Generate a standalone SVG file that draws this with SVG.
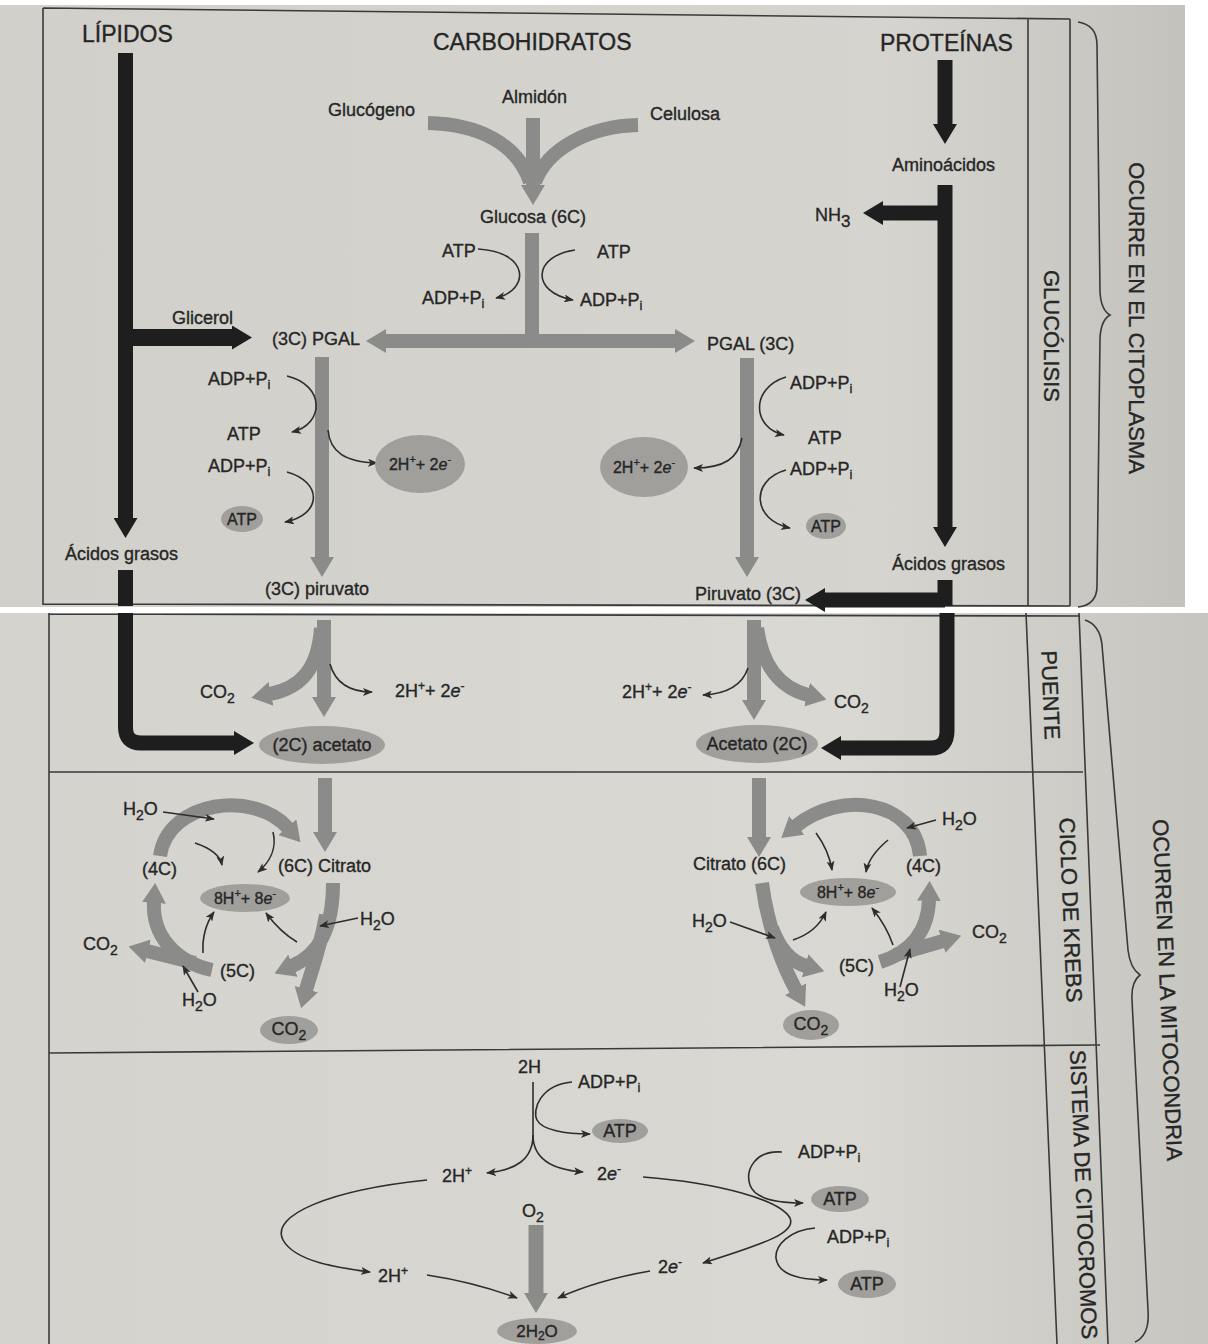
<svg xmlns="http://www.w3.org/2000/svg" width="1208" height="1344" viewBox="0 0 1208 1344">
<defs>
<linearGradient id="pt" x1="0" x2="1" y1="0" y2="0"><stop offset="0" stop-color="#d2d0cb"/><stop offset="0.75" stop-color="#d6d4cf"/><stop offset="1" stop-color="#c4c2bc"/></linearGradient>
<linearGradient id="pb" x1="0" x2="1" y1="0" y2="0"><stop offset="0" stop-color="#d4d3ce"/><stop offset="0.7" stop-color="#d9d8d3"/><stop offset="1" stop-color="#c7c5bf"/></linearGradient>
<marker id="mg" viewBox="0 0 20 24" markerWidth="20" markerHeight="24" refX="1" refY="12" orient="auto" markerUnits="userSpaceOnUse"><path d="M0,0 L20,12 L0,24 z" fill="#8b8b89"/></marker>
<marker id="mb" viewBox="0 0 20 24" markerWidth="20" markerHeight="24" refX="1" refY="12" orient="auto" markerUnits="userSpaceOnUse"><path d="M0,0 L20,12 L0,24 z" fill="#1e1e1e"/></marker>
<marker id="mt" viewBox="0 0 10 8" markerWidth="10" markerHeight="8" refX="9" refY="4" orient="auto" markerUnits="userSpaceOnUse"><path d="M0,0 L10,4 L0,8 L2.5,4 z" fill="#2d2d2d"/></marker>
<style>
.g{fill:none;stroke:#8b8b89;stroke-width:14}
.gm{marker-end:url(#mg)}
.b{fill:none;stroke:#1e1e1e;stroke-width:15}
.bm{marker-end:url(#mb)}
.t{fill:none;stroke:#2d2d2d;stroke-width:1.6;marker-end:url(#mt)}
.tn{fill:none;stroke:#2d2d2d;stroke-width:1.6}
.f{fill:none;stroke:#3a3a3a;stroke-width:1.6}
.e{fill:#a19f9b}
text{font-family:"Liberation Sans",Arial,sans-serif;fill:#262626;stroke:#262626;stroke-width:0.35}
.l{font-size:18px}
.s{font-size:16px}
.T{font-size:23px}
.V{font-size:22px}
.c{text-anchor:middle}
</style>
</defs>
<rect width="1208" height="1344" fill="#ffffff"/>
<rect x="0" y="5" width="1185" height="602" fill="url(#pt)"/>
<rect x="0" y="613" width="1208" height="731" fill="url(#pb)"/>

<g id="frame">
<path class="f" d="M43,8 V605 M43,8 L1070,19 M43,604 L1070,606 M1028,18 V606 M1070,19 V606"/>
<path class="f" d="M1078,22 Q1097,25 1097,45 L1100,292 Q1101,310 1110,315 Q1101,320 1100,338 L1097,586 Q1097,605 1078,607"/>
<path class="f" d="M49,613 V1344 M49,614 L1080,616 M49,772 L1083,772 M49,1053 L1100,1045 M1026,613 L1057,1344 M1079,613 L1108,1344"/>
<path class="f" d="M1085,620 Q1100,625 1102,645 L1128,950 Q1130,968 1140,975 Q1131,982 1132,1000 L1148,1310 Q1150,1335 1135,1342"/>
</g>

<g id="connectors">
<path class="b bm" d="M125.5,53 V519"/>
<path class="b bm" style="stroke-width:17" d="M133,337.5 H233"/>
<path class="b" d="M125.5,570 V606"/>
<path class="b bm" d="M945,60 V125"/>
<path class="b bm" d="M945,185 V528"/>
<path class="b bm" d="M945,213 H882"/>
<path class="b" d="M945,580 V606"/>
<path class="b bm" d="M945,600 H824"/>
<path class="g" d="M428,123 C 480,124 518,145 530,182"/>
<path class="g" d="M638,125 C 590,126 548,148 535,182"/>
<path class="g gm" d="M533,118 V186"/>
<path class="g" d="M532,233 V341"/>
<path class="g gm" d="M532,341 H385"/>
<path class="g gm" d="M532,341 H676"/>
<path class="g gm" d="M322,357 V558"/>
<path class="g gm" d="M747,358 V558"/>
<path class="t" d="M478,249 C 530,252 530,290 496,298"/>
<path class="t" d="M575,250 C 533,256 530,292 573,300"/>
<path class="t" d="M287,376 C 325,385 325,424 292,432"/>
<path class="t" d="M287,472 C 323,482 322,515 285,522"/>
<path class="t" d="M328,430 C 330,452 345,462 377,463"/>
<path class="t" d="M786,377 C 750,388 752,428 784,435"/>
<path class="t" d="M786,470 C 750,480 752,520 790,528"/>
<path class="t" d="M742,438 C 738,458 725,468 694,468"/>

<path class="b bm" d="M125.5,613 V727 Q125.5,743 141,743 H235"/>
<path class="b bm" d="M947,613 V731 Q947,748 931,748 H840"/>
<path class="g gm" d="M324,620 V698"/>
<path class="g gm" d="M321,628 C 318,670 300,688 270,694"/>
<path class="t" d="M330,664 C 336,685 352,692 372,692"/>
<path class="g gm" d="M754,620 V701"/>
<path class="g gm" d="M757,628 C 762,665 780,688 808,695"/>
<path class="t" d="M748,668 C 742,686 725,694 703,695"/>

<path class="g gm" d="M325,778 V833"/>
<path class="g gm" d="M160,856 C 168,800 255,790 288,828"/>
<path class="g gm" d="M333,883 C 333,930 318,955 292,966"/>
<path class="g gm" d="M326,915 C 320,950 310,975 306,990"/>
<path class="g gm" d="M212,970 C 175,962 152,935 154,902"/>
<path class="g gm" d="M195,963 L147,951"/>
<path class="t" d="M163,812 L214,819"/>
<path class="t" d="M195,843 C 210,848 220,855 222,865"/>
<path class="t" d="M273,832 C 277,848 270,862 258,872"/>
<path class="t" d="M358,918 L320,926"/>
<path class="t" d="M297,942 C 285,935 275,925 266,913"/>
<path class="t" d="M198,992 L183,966"/>
<path class="t" d="M203,953 C 202,935 207,922 214,912"/>

<path class="g gm" d="M759,778 V838"/>
<path class="g gm" d="M920,856 C 915,800 840,790 796,826"/>
<path class="g gm" d="M762,883 C 768,930 785,970 796,990"/>
<path class="g gm" d="M772,928 C 780,950 792,962 806,966"/>
<path class="g gm" d="M880,962 C 912,952 928,930 929,900"/>
<path class="g gm" d="M895,955 L943,941"/>
<path class="t" d="M936,820 L907,828"/>
<path class="t" d="M816,833 C 825,845 830,858 832,870"/>
<path class="t" d="M888,840 C 876,850 868,860 866,872"/>
<path class="t" d="M730,922 L775,938"/>
<path class="t" d="M793,940 C 808,935 820,925 826,912"/>
<path class="t" d="M900,987 L910,949"/>
<path class="t" d="M893,945 C 888,930 880,918 872,908"/>

<path class="tn" d="M533,1082 V1137"/>
<path class="t" d="M533,1135 C 533,1160 515,1170 487,1173"/>
<path class="t" d="M533,1135 C 533,1160 555,1170 583,1172"/>
<path class="t" d="M572,1082 C 540,1085 532,1110 537,1120 C 542,1130 565,1134 590,1134"/>
<path class="t" d="M427,1180 C 330,1190 270,1215 283,1240 C 295,1262 340,1268 370,1272"/>
<path class="t" d="M427,1275 C 460,1280 490,1288 517,1298"/>
<path class="t" d="M650,1271 C 610,1278 580,1288 558,1298"/>
<path class="g gm" style="stroke-width:15" d="M536,1225 V1294"/>
<path class="t" d="M643,1177 C 720,1183 780,1200 790,1218 C 796,1232 770,1242 703,1263"/>
<path class="t" d="M782,1152 C 755,1150 745,1170 750,1185 C 755,1200 780,1203 803,1203"/>
<path class="t" d="M815,1228 C 790,1230 775,1245 776,1258 C 778,1275 800,1280 827,1280"/>
</g>

<g id="headers">
<text class="T" x="82" y="42">LÍPIDOS</text>
<text class="T" x="433" y="50">CARBOHIDRATOS</text>
<text class="T" x="880" y="51">PROTEÍNAS</text>
</g>
<g id="glucogeno"><text class="l" x="328" y="116">Glucógeno</text></g>
<g id="almidon"><text class="l" x="502" y="103">Almidón</text></g>
<g id="celulosa"><text class="l" x="650" y="120">Celulosa</text></g>
<g id="glucosa"><text class="l" x="480" y="223">Glucosa (6C)</text></g>
<g id="g-atp1"><text class="l" x="442" y="257">ATP</text></g>
<g id="g-atp2"><text class="l" x="597" y="258">ATP</text></g>
<g id="g-adp1"><text class="l" x="422" y="304">ADP+P<tspan font-size="13" dy="4">i</tspan></text></g>
<g id="g-adp2"><text class="l" x="580" y="306">ADP+P<tspan font-size="13" dy="4">i</tspan></text></g>
<g id="aminoacidos"><text class="l" x="892" y="171">Aminoácidos</text></g>
<g id="nh3"><text class="l" x="815" y="221">NH<tspan font-size="17" dy="6">3</tspan></text></g>
<g id="glicerol"><text class="l" x="172" y="324">Glicerol</text></g>
<g id="pgal-l"><text class="l" x="272" y="345">(3C) PGAL</text></g>
<g id="pgal-r"><text class="l" x="707" y="350">PGAL (3C)</text></g>
<g id="l-adp1"><text class="l" x="208" y="385">ADP+P<tspan font-size="13" dy="4">i</tspan></text></g>
<g id="l-atp1"><text class="l" x="227" y="440">ATP</text></g>
<g id="l-adp2"><text class="l" x="208" y="472">ADP+P<tspan font-size="13" dy="4">i</tspan></text></g>
<g id="l-atp2"><ellipse class="e" cx="242" cy="519" rx="21" ry="13"/><text class="s c" x="242" y="525">ATP</text></g>
<g id="l-2h"><ellipse class="e" cx="420" cy="464" rx="45" ry="29"/><text class="s c" x="420" y="470">2H<tspan font-size="11" dy="-7">+</tspan><tspan dy="7">+ 2</tspan><tspan font-style="italic">e</tspan><tspan font-size="11" dy="-7">-</tspan></text></g>
<g id="r-adp1"><text class="l" x="790" y="389">ADP+P<tspan font-size="13" dy="4">i</tspan></text></g>
<g id="r-atp1"><text class="l" x="808" y="444">ATP</text></g>
<g id="r-adp2"><text class="l" x="790" y="475">ADP+P<tspan font-size="13" dy="4">i</tspan></text></g>
<g id="r-atp2"><ellipse class="e" cx="826" cy="526" rx="20" ry="13"/><text class="s c" x="826" y="532">ATP</text></g>
<g id="r-2h"><ellipse class="e" cx="644" cy="467" rx="44" ry="30"/><text class="s c" x="644" y="473">2H<tspan font-size="11" dy="-7">+</tspan><tspan dy="7">+ 2</tspan><tspan font-style="italic">e</tspan><tspan font-size="11" dy="-7">-</tspan></text></g>
<g id="acidos-l"><text class="l" x="65" y="560">Ácidos grasos</text></g>
<g id="acidos-r"><text class="l" x="892" y="570">Ácidos grasos</text></g>
<g id="piruvato-l"><text class="l" x="265" y="595">(3C) piruvato</text></g>
<g id="piruvato-r"><text class="l" x="695" y="600">Piruvato (3C)</text></g>
<g id="glucolisis"><text class="V c" font-size="25" transform="translate(1053,336) rotate(90)" y="9">GLUCÓLISIS</text></g>
<g id="citoplasma"><text class="V c" transform="translate(1137,318) rotate(90)" y="8">OCURRE EN EL CITOPLASMA</text></g>

<g id="p-co2-l"><text class="l" x="200" y="698">CO<tspan font-size="14" dy="5">2</tspan></text></g>
<g id="p-2h-l"><text class="l" x="395" y="697">2H<tspan font-size="12" dy="-7">+</tspan><tspan dy="7">+ 2</tspan><tspan font-style="italic">e</tspan><tspan font-size="12" dy="-7">-</tspan></text></g>
<g id="acetato-l"><ellipse class="e" cx="322" cy="745" rx="63" ry="19"/><text class="l c" x="322" y="751">(2C) acetato</text></g>
<g id="p-2h-r"><text class="l" x="622" y="698">2H<tspan font-size="12" dy="-7">+</tspan><tspan dy="7">+ 2</tspan><tspan font-style="italic">e</tspan><tspan font-size="12" dy="-7">-</tspan></text></g>
<g id="p-co2-r"><text class="l" x="834" y="708">CO<tspan font-size="14" dy="5">2</tspan></text></g>
<g id="acetato-r"><ellipse class="e" cx="757" cy="744" rx="61" ry="19"/><text class="l c" x="757" y="750">Acetato (2C)</text></g>
<g id="puente"><text class="V c" transform="translate(1051,695) rotate(87.6)" y="8">PUENTE</text></g>

<g id="k-h2o-1"><text class="l" x="123" y="815">H<tspan font-size="14" dy="5">2</tspan><tspan dy="-5">O</tspan></text></g>
<g id="k-4c-l"><text class="l" x="142" y="875">(4C)</text></g>
<g id="k-citrato-l"><text class="l" x="278" y="872">(6C) Citrato</text></g>
<g id="k-8h-l"><ellipse class="e" cx="245" cy="898" rx="45" ry="14"/><text class="s c" x="245" y="904">8H<tspan font-size="11" dy="-7">+</tspan><tspan dy="7">+ 8</tspan><tspan font-style="italic">e</tspan><tspan font-size="11" dy="-7">-</tspan></text></g>
<g id="k-h2o-2"><text class="l" x="360" y="925">H<tspan font-size="14" dy="5">2</tspan><tspan dy="-5">O</tspan></text></g>
<g id="k-co2-l"><text class="l" x="83" y="950">CO<tspan font-size="14" dy="5">2</tspan></text></g>
<g id="k-5c-l"><text class="l" x="220" y="977">(5C)</text></g>
<g id="k-h2o-3"><text class="l" x="182" y="1006">H<tspan font-size="14" dy="5">2</tspan><tspan dy="-5">O</tspan></text></g>
<g id="k-co2e-l"><ellipse class="e" cx="289" cy="1030" rx="29" ry="14"/><text class="l c" x="289" y="1035">CO<tspan font-size="14" dy="5">2</tspan></text></g>

<g id="k-citrato-r"><text class="l" x="693" y="870">Citrato (6C)</text></g>
<g id="k-4c-r"><text class="l" x="906" y="872">(4C)</text></g>
<g id="k-8h-r"><ellipse class="e" cx="848" cy="892" rx="48" ry="14"/><text class="s c" x="848" y="898">8H<tspan font-size="11" dy="-7">+</tspan><tspan dy="7">+ 8</tspan><tspan font-style="italic">e</tspan><tspan font-size="11" dy="-7">-</tspan></text></g>
<g id="k-h2o-4"><text class="l" x="942" y="825">H<tspan font-size="14" dy="5">2</tspan><tspan dy="-5">O</tspan></text></g>
<g id="k-h2o-5"><text class="l" x="692" y="927">H<tspan font-size="14" dy="5">2</tspan><tspan dy="-5">O</tspan></text></g>
<g id="k-5c-r"><text class="l" x="839" y="972">(5C)</text></g>
<g id="k-h2o-6"><text class="l" x="884" y="996">H<tspan font-size="14" dy="5">2</tspan><tspan dy="-5">O</tspan></text></g>
<g id="k-co2-r"><text class="l" x="972" y="938">CO<tspan font-size="14" dy="5">2</tspan></text></g>
<g id="k-co2e-r"><ellipse class="e" cx="811" cy="1025" rx="28" ry="15"/><text class="l c" x="811" y="1030">CO<tspan font-size="14" dy="5">2</tspan></text></g>
<g id="krebs"><text class="V c" font-size="24" transform="translate(1071,910) rotate(87.6)" y="8">CICLO DE KREBS</text></g>

<g id="c-2h"><text class="l" x="518" y="1073">2H</text></g>
<g id="c-adp1"><text class="l" x="578" y="1088">ADP+P<tspan font-size="13" dy="4">i</tspan></text></g>
<g id="c-atp1"><ellipse class="e" cx="620" cy="1131" rx="28" ry="12"/><text class="l c" x="620" y="1137">ATP</text></g>
<g id="c-2hp1"><text class="l" x="442" y="1182">2H<tspan font-size="12" dy="-7">+</tspan></text></g>
<g id="c-2e1"><text class="l" x="597" y="1180">2<tspan font-style="italic">e</tspan><tspan font-size="12" dy="-7">-</tspan></text></g>
<g id="c-o2"><text class="l" x="522" y="1217">O<tspan font-size="14" dy="5">2</tspan></text></g>
<g id="c-2hp2"><text class="l" x="378" y="1282">2H<tspan font-size="12" dy="-7">+</tspan></text></g>
<g id="c-2e2"><text class="l" x="658" y="1273">2<tspan font-style="italic">e</tspan><tspan font-size="12" dy="-7">-</tspan></text></g>
<g id="c-h2o"><ellipse class="e" cx="537" cy="1331" rx="40" ry="13"/><text class="c" font-size="17" x="537" y="1337">2H<tspan font-size="12" dy="3">2</tspan><tspan dy="-3">O</tspan></text></g>
<g id="c-adp2"><text class="l" x="798" y="1158">ADP+P<tspan font-size="13" dy="4">i</tspan></text></g>
<g id="c-atp2"><ellipse class="e" cx="840" cy="1199" rx="29" ry="13"/><text class="l c" x="840" y="1205">ATP</text></g>
<g id="c-adp3"><text class="l" x="827" y="1243">ADP+P<tspan font-size="13" dy="4">i</tspan></text></g>
<g id="c-atp3"><ellipse class="e" cx="867" cy="1284" rx="29" ry="14"/><text class="l c" x="867" y="1290">ATP</text></g>
<g id="citocromos"><text class="V" transform="translate(1078,1050) rotate(87.6)" y="8">SISTEMA DE CITOCROMOS</text></g>
<g id="mitocondria"><text class="V c" font-size="21" transform="translate(1168,990) rotate(87.6)" y="8">OCURREN EN LA MITOCONDRIA</text></g>
</svg>
